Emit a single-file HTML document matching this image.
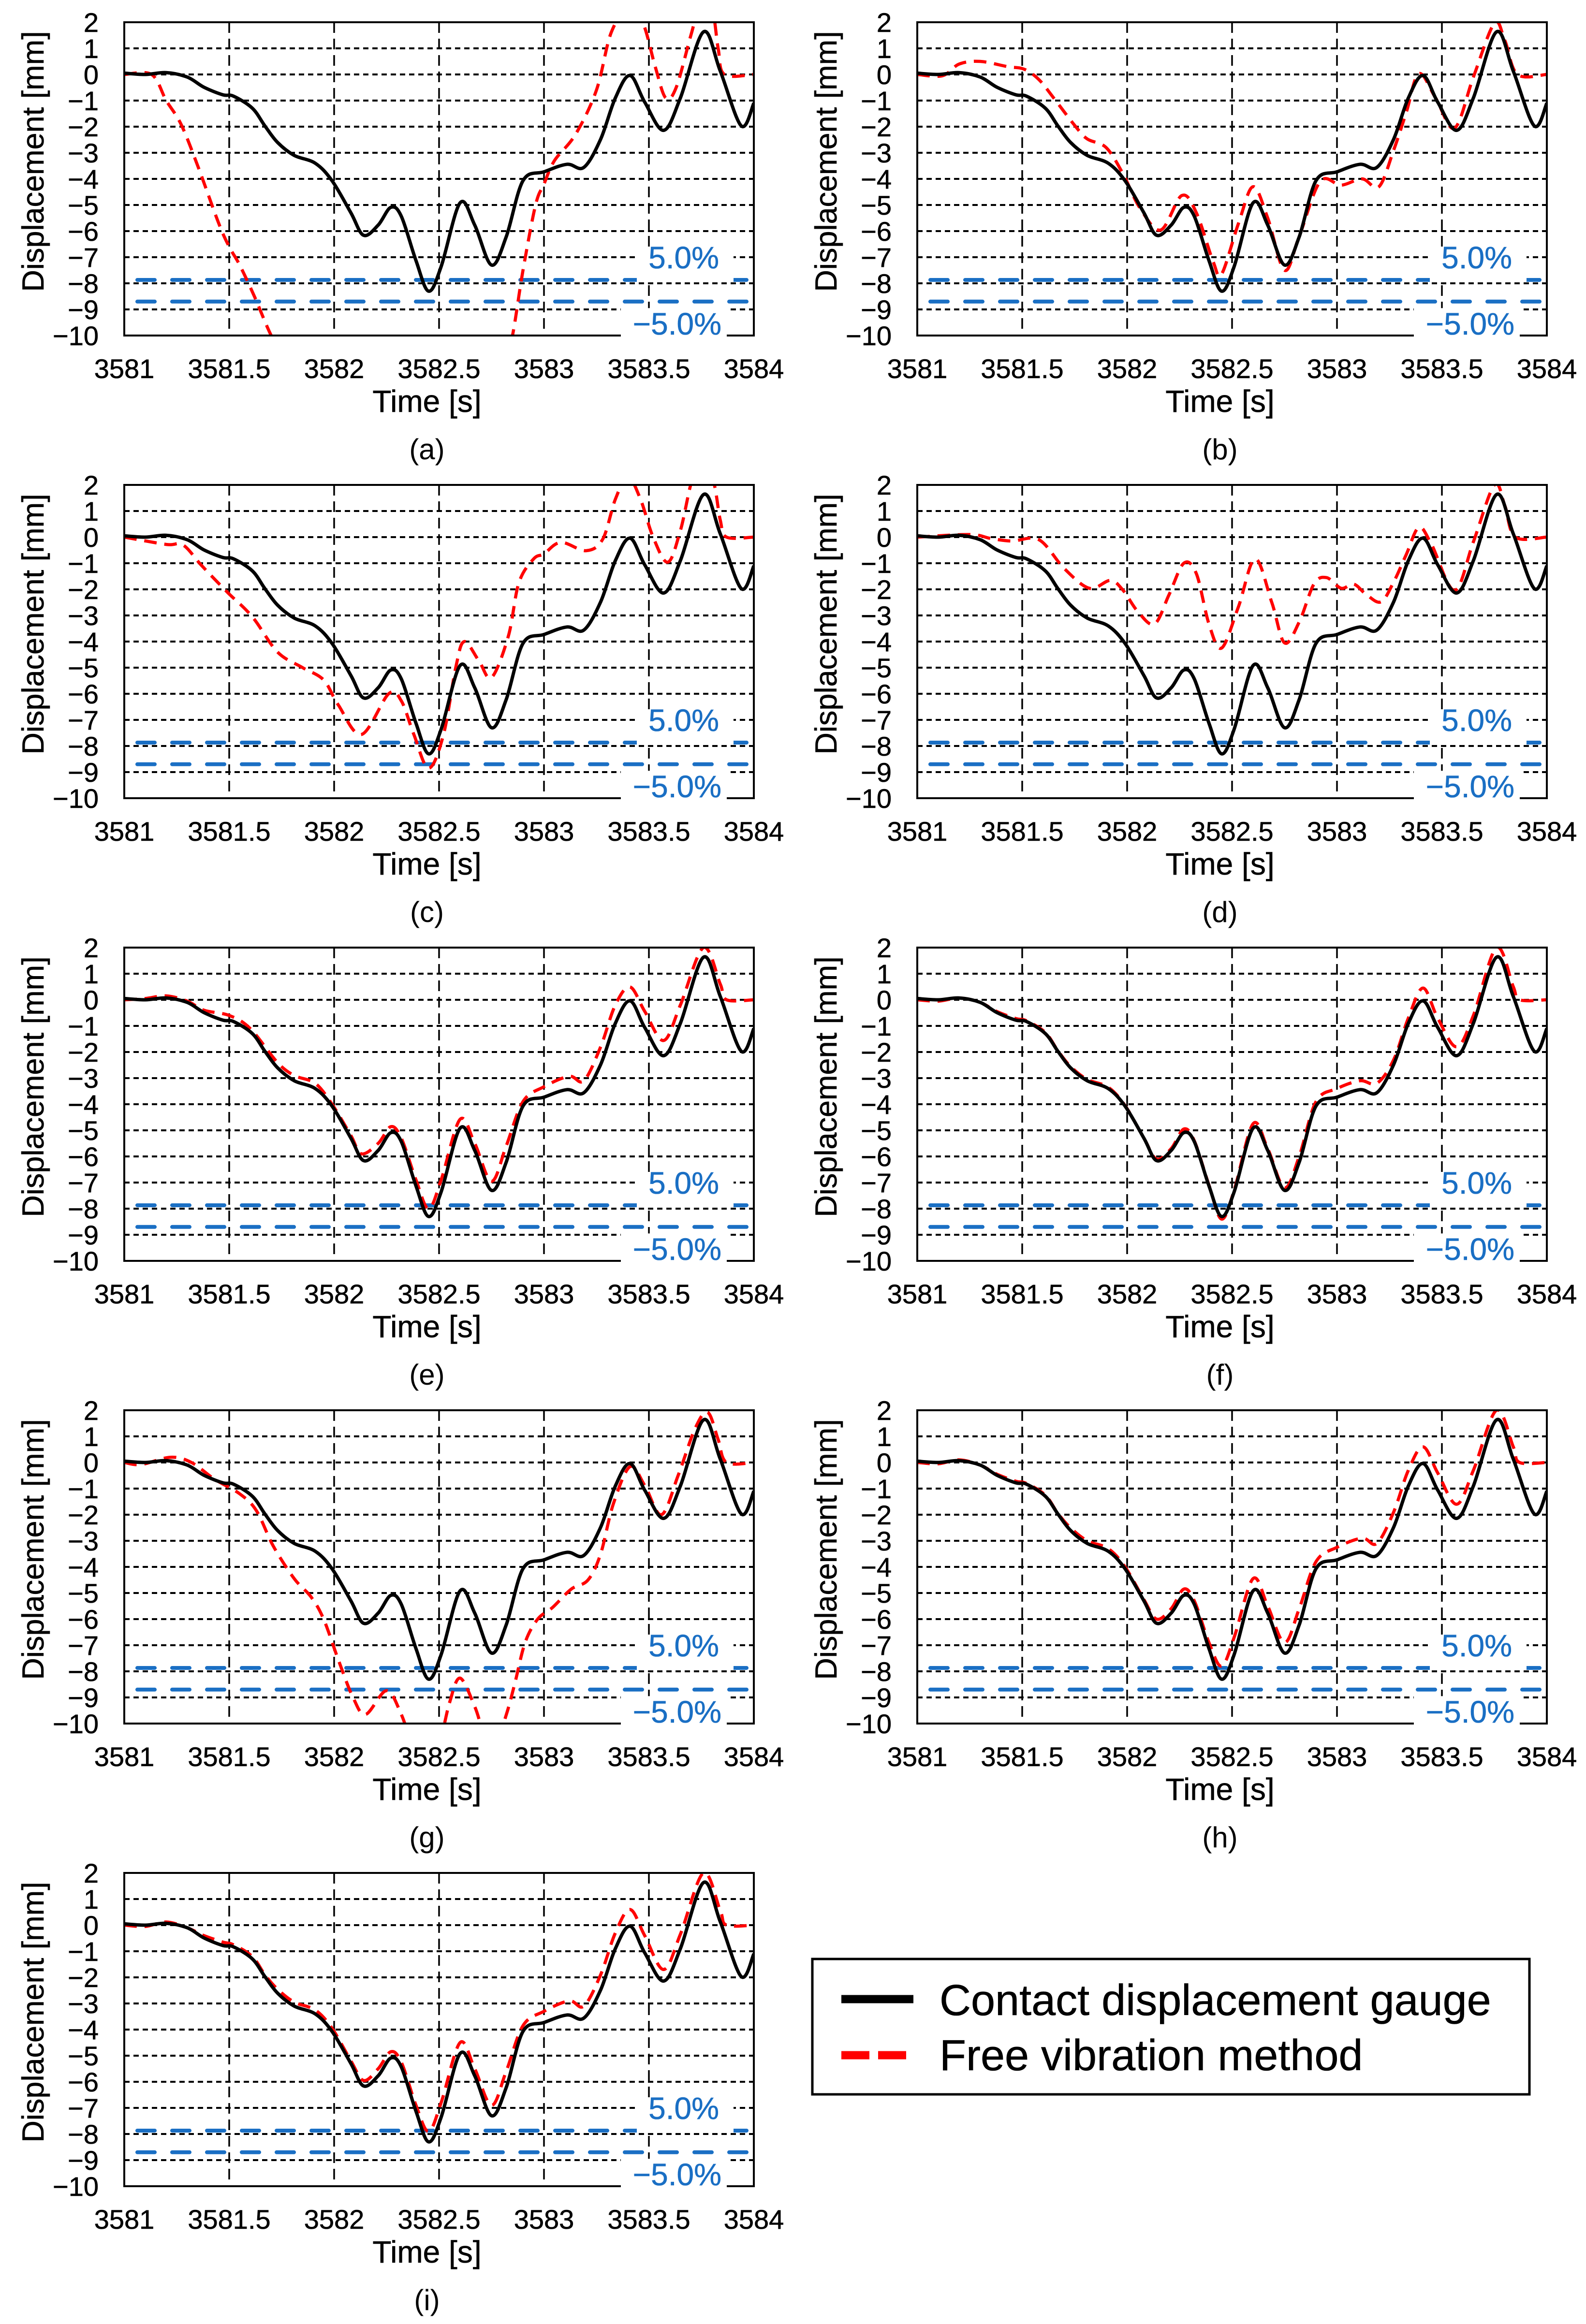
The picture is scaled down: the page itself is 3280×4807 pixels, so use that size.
<!DOCTYPE html>
<html><head><meta charset="utf-8">
<style>
html,body{margin:0;padding:0;background:#fff;}
svg{display:block;}
text{font-family:"Liberation Sans",Arial,sans-serif;stroke-width:0.6;}
</style></head>
<body>
<svg id="fig" width="3280" height="4807" viewBox="0 0 3280 4807" xmlns="http://www.w3.org/2000/svg">
<rect width="3280" height="4807" fill="#fff"/>
</svg>
<script>
// ---- shared axis data ----
const xTicks = [3581, 3581.5, 3582, 3582.5, 3583, 3583.5, 3584];
const xTickLabels = ["3581", "3581.5", "3582", "3582.5", "3583", "3583.5", "3584"];
const yTicks = [2, 1, 0, -1, -2, -3, -4, -5, -6, -7, -8, -9, -10];
const yTickLabels = ["2", "1", "0", "\u22121", "\u22122", "\u22123", "\u22124", "\u22125", "\u22126", "\u22127", "\u22128", "\u22129", "\u221210"];
const limitValues = [-7.87, -8.7];
const limitLabels = ["5.0%", "\u22125.0%"];
const panelLabels = ["(a)", "(b)", "(c)", "(d)", "(e)", "(f)", "(g)", "(h)", "(i)"];

// ---- contact displacement gauge (same in every panel) ----
const gaugeT = [3581,3581.1,3581.2,3581.3,3581.38,3581.47,3581.52,3581.61,3581.67,3581.73,3581.81,3581.91,3581.99,3582.08,3582.14,3582.21,3582.27,3582.32,3582.39,3582.45,3582.51,3582.6,3582.67,3582.75,3582.82,3582.9,3583.0,3583.11,3583.19,3583.27,3583.34,3583.41,3583.48,3583.57,3583.65,3583.76,3583.84,3583.94,3584];
const gaugeV = [0.05,0.0,0.07,-0.1,-0.49,-0.78,-0.83,-1.29,-1.97,-2.6,-3.1,-3.4,-4.07,-5.3,-6.16,-5.77,-5.09,-5.43,-7.13,-8.3,-7.36,-4.92,-5.77,-7.3,-6.22,-4.07,-3.73,-3.44,-3.56,-2.48,-0.9,-0.04,-1.06,-2.14,-0.9,1.63,0.13,-1.97,-1.1];

// ---- free vibration method per panel ----
const freeT_a = [3581,3581.13,3581.2,3581.27,3581.35,3581.45,3581.5,3581.55,3581.62,3581.7,3581.8,3582.3,3582.8,3582.85,3582.9,3582.96,3583.0,3583.05,3583.15,3583.25,3583.32,3583.4,3583.47,3583.53,3583.58,3583.63,3583.7,3583.74,3583.8,3583.83,3583.86,3584];
const freeV_a = [0,0,-1,-1.9,-3.5,-5.7,-6.6,-7.3,-8.5,-10,-11.5,-14,-11.5,-10,-7.5,-5,-4.2,-3.3,-2.3,-0.6,1.6,2.5,2.0,0.3,-0.9,-0.5,1.5,2.5,2.5,1.0,0,0];

const freeT_b = [3581,3581.12,3581.2,3581.3,3581.43,3581.51,3581.58,3581.65,3581.75,3581.81,3581.9,3581.98,3582.06,3582.16,3582.26,3582.33,3582.41,3582.45,3582.53,3582.6,3582.67,3582.75,3582.82,3582.92,3583.02,3583.12,3583.2,3583.27,3583.33,3583.39,3583.47,3583.56,3583.65,3583.75,3583.8,3583.86,3584];
const freeV_b = [0,-0.05,0.4,0.5,0.3,0.2,-0.2,-0.9,-1.95,-2.47,-2.8,-3.8,-5.1,-5.96,-4.64,-5.3,-7.17,-7.65,-5.72,-4.3,-5.5,-7.5,-6.2,-4.1,-4.24,-4.0,-4.3,-2.9,-1.46,0.03,-0.9,-2.06,-0.1,1.96,1.3,0,0];

const freeT_c = [3581,3581.2,3581.28,3581.37,3581.49,3581.61,3581.73,3581.85,3581.95,3582.02,3582.13,3582.26,3582.32,3582.38,3582.45,3582.52,3582.58,3582.62,3582.69,3582.75,3582.83,3582.88,3582.95,3583.0,3583.08,3583.2,3583.28,3583.34,3583.4,3583.46,3583.52,3583.59,3583.65,3583.72,3583.8,3583.84,3583.87,3584];
const freeV_c = [0,-0.28,-0.3,-1.1,-2.1,-3.05,-4.4,-5.0,-5.47,-6.43,-7.56,-6.0,-6.27,-7.56,-8.85,-7.6,-4.98,-4.0,-4.74,-5.38,-3.8,-1.76,-0.84,-0.64,-0.2,-0.52,-0.08,1.45,2.3,1.45,0,-0.96,0.25,2.5,2.3,0.65,0,0];

const freeT_d = [3581,3581.25,3581.35,3581.45,3581.58,3581.7,3581.82,3581.92,3581.98,3582.05,3582.13,3582.2,3582.27,3582.33,3582.39,3582.45,3582.53,3582.61,3582.69,3582.75,3582.82,3582.89,3582.95,3583.02,3583.08,3583.14,3583.21,3583.27,3583.33,3583.39,3583.45,3583.56,3583.65,3583.75,3583.8,3583.85,3584];
const freeV_d = [0,0.1,-0.05,-0.15,-0.1,-1.2,-1.96,-1.66,-2.03,-2.84,-3.33,-2.2,-1.0,-1.4,-3.33,-4.25,-2.68,-0.83,-2.52,-4.05,-3.25,-1.8,-1.55,-1.96,-1.8,-2.2,-2.48,-1.72,-0.67,0.37,-0.27,-2.04,-0.18,2.0,1.2,0,0];

const freeT_e = [3581,3581.1,3581.2,3581.3,3581.38,3581.5,3581.6,3581.73,3581.81,3581.91,3581.99,3582.08,3582.13,3582.21,3582.27,3582.32,3582.39,3582.45,3582.51,3582.6,3582.67,3582.75,3582.82,3582.9,3583.0,3583.12,3583.19,3583.27,3583.34,3583.41,3583.48,3583.57,3583.65,3583.76,3583.84,3583.87,3584];
const freeV_e = [0,0.05,0.15,-0.05,-0.4,-0.6,-1.1,-2.4,-2.9,-3.2,-4.0,-5.2,-5.9,-5.5,-4.86,-5.3,-6.9,-8.0,-6.9,-4.58,-5.5,-6.95,-5.6,-3.9,-3.33,-2.93,-3.1,-1.8,-0.2,0.49,-0.44,-1.56,-0.2,2.0,0.6,0,0];

const freeT_f = [3581,3581.1,3581.2,3581.3,3581.38,3581.47,3581.52,3581.61,3581.67,3581.73,3581.81,3581.91,3581.99,3582.08,3582.14,3582.21,3582.27,3582.32,3582.39,3582.45,3582.51,3582.6,3582.67,3582.75,3582.82,3582.9,3583.0,3583.11,3583.19,3583.27,3583.34,3583.41,3583.48,3583.57,3583.65,3583.76,3583.84,3583.87,3584];
const freeV_f = [0,-0.05,0.07,-0.1,-0.45,-0.72,-0.8,-1.25,-1.95,-2.55,-3.05,-3.35,-4.05,-5.3,-6.1,-5.7,-4.95,-5.4,-7.1,-8.4,-7.3,-4.75,-5.7,-7.2,-6.0,-3.9,-3.4,-3.1,-3.2,-2.3,-0.7,0.45,-0.7,-1.8,-0.6,2.0,0.5,0,0];

const freeT_g = [3581,3581.08,3581.22,3581.32,3581.43,3581.55,3581.63,3581.71,3581.81,3581.89,3581.95,3582.02,3582.09,3582.15,3582.25,3582.32,3582.38,3582.44,3582.5,3582.55,3582.6,3582.67,3582.71,3582.76,3582.82,3582.86,3582.91,3582.97,3583.04,3583.13,3583.21,3583.27,3583.33,3583.41,3583.48,3583.56,3583.64,3583.72,3583.78,3583.83,3583.87,3584];
const freeV_g = [0,-0.08,0.2,0,-0.64,-1.2,-1.85,-3.2,-4.45,-5.15,-6.0,-7.56,-9.0,-9.65,-8.74,-9.65,-11.0,-11.5,-10.8,-9.2,-8.26,-9.35,-10.3,-11.0,-9.67,-8.5,-6.9,-6.0,-5.56,-4.85,-4.5,-3.5,-1.6,-0.16,-0.88,-2.0,-0.48,1.3,1.92,0.88,0,0];

const freeT_h = [3581,3581.1,3581.2,3581.3,3581.38,3581.47,3581.52,3581.61,3581.67,3581.73,3581.81,3581.91,3581.99,3582.08,3582.14,3582.21,3582.27,3582.32,3582.39,3582.45,3582.51,3582.6,3582.67,3582.75,3582.82,3582.9,3583.0,3583.12,3583.19,3583.27,3583.34,3583.41,3583.48,3583.57,3583.65,3583.76,3583.84,3583.87,3584];
const freeV_h = [0,-0.05,0.1,-0.1,-0.45,-0.72,-0.8,-1.25,-1.95,-2.5,-3.0,-3.3,-4.0,-5.25,-6.0,-5.6,-4.85,-5.3,-6.9,-7.8,-6.7,-4.45,-5.5,-6.9,-5.6,-3.8,-3.25,-2.9,-3.1,-1.9,-0.3,0.6,-0.4,-1.6,-0.3,2.0,0.6,0,0];

const freeT_i = [3581,3581.1,3581.2,3581.3,3581.38,3581.47,3581.52,3581.61,3581.67,3581.73,3581.81,3581.91,3581.99,3582.08,3582.14,3582.21,3582.27,3582.32,3582.39,3582.45,3582.51,3582.6,3582.67,3582.75,3582.82,3582.9,3583.0,3583.12,3583.19,3583.27,3583.34,3583.41,3583.48,3583.57,3583.65,3583.76,3583.84,3583.87,3584];
const freeV_i = [0,-0.05,0.12,-0.1,-0.4,-0.65,-0.75,-1.2,-1.9,-2.45,-2.95,-3.25,-3.95,-5.2,-5.95,-5.5,-4.85,-5.25,-6.9,-7.9,-6.8,-4.5,-5.5,-6.9,-5.6,-3.85,-3.3,-2.9,-3.1,-1.9,-0.3,0.6,-0.4,-1.7,-0.35,2.0,0.55,0,0];

const freeTs = [freeT_a, freeT_b, freeT_c, freeT_d, freeT_e, freeT_f, freeT_g, freeT_h, freeT_i];
const freeVs = [freeV_a, freeV_b, freeV_c, freeV_d, freeV_e, freeV_f, freeV_g, freeV_h, freeV_i];

const NS = "http://www.w3.org/2000/svg";
const svg = document.getElementById('fig');
const PW = 1302, PH = 648;

function mk(tag, attrs, parent) {
  const e = document.createElementNS(NS, tag);
  for (const k in attrs) e.setAttribute(k, attrs[k]);
  parent.appendChild(e);
  return e;
}
function smoothPath(pts) {
  let d = "M" + pts[0][0].toFixed(1) + "," + pts[0][1].toFixed(1);
  for (let i = 0; i < pts.length - 1; i++) {
    const p0 = pts[i - 1] || pts[i], p1 = pts[i], p2 = pts[i + 1], p3 = pts[i + 2] || p2;
    const c1 = [p1[0] + (p2[0] - p0[0]) / 6, p1[1] + (p2[1] - p0[1]) / 6];
    const c2 = [p2[0] - (p3[0] - p1[0]) / 6, p2[1] - (p3[1] - p1[1]) / 6];
    d += " C" + c1[0].toFixed(1) + "," + c1[1].toFixed(1) + " " + c2[0].toFixed(1) + "," + c2[1].toFixed(1) + " " + p2[0].toFixed(1) + "," + p2[1].toFixed(1);
  }
  return d;
}

for (let p = 0; p < 9; p++) {
  const col = p % 2, row = Math.floor(p / 2);
  const px = col === 0 ? 257 : 1897;
  const py = 46 + 957 * row;
  const xS = t => px + (t - 3581) / 3 * PW;
  const yS = v => py + (2 - v) / 12 * PH;

  const g = mk('g', {}, svg);
  
  

  const cp = mk('clipPath', { id: 'clip' + p }, g);
  mk('rect', { x: px, y: py, width: PW, height: PH }, cp);

  yTicks.forEach(v => {
    const l = mk('line', { x1: px, x2: px + PW, y1: yS(v), y2: yS(v), stroke: '#000', 'stroke-width': 4, 'stroke-dasharray': '11,8' }, g);
    
    
  });
  xTicks.forEach(t => {
    const l = mk('line', { x1: xS(t), x2: xS(t), y1: py, y2: py + PH, stroke: '#000', 'stroke-width': 3.5, 'stroke-dasharray': '22,12' }, g);
    
    
  });

  limitValues.forEach((v, i) => {
    const l = mk('line', { x1: px + 27, x2: px + PW, y1: yS(v), y2: yS(v), stroke: '#1a6fc4', 'stroke-width': 8, 'stroke-dasharray': '36,36', 'stroke-linecap': 'round' }, g);
    
    
  });

  const gPts = gaugeT.map((t, i) => [xS(t), yS(gaugeV[i])]);
  const fPts = freeTs[p].map((t, i) => [xS(t), yS(freeVs[p][i])]);
  const sg = mk('g', { 'clip-path': 'url(#clip' + p + ')' }, g);
  const redPath = mk('path', { d: smoothPath(fPts), fill: 'none', stroke: '#ff0000', 'stroke-width': 6.5, 'stroke-dasharray': '26,16' }, sg);
  
  
  const blackPath = mk('path', { d: smoothPath(gPts), fill: 'none', stroke: '#000', 'stroke-width': 7, 'stroke-linejoin': 'round' }, sg);
  
  

  const fr = mk('rect', { x: px, y: py, width: PW, height: PH, fill: 'none', stroke: '#000', 'stroke-width': 4 }, g);
  
  

  mk('rect', { x: px + 1060, y: yS(-6.7), width: 200, height: 68, fill: '#fff' }, g);
  mk('rect', { x: px + 1027, y: yS(-8.95), width: 219, height: 80, fill: '#fff' }, g);

  const t1 = mk('text', { x: px + 1230, y: py + 509, 'text-anchor': 'end', 'font-size': 64, fill: '#1a6fc4', stroke: '#1a6fc4' }, g);
  t1.textContent = limitLabels[0];
  
  
  const t2 = mk('text', { x: px + 1235, y: py + 646, 'text-anchor': 'end', 'font-size': 64, fill: '#1a6fc4', stroke: '#1a6fc4' }, g);
  t2.textContent = limitLabels[1];
  
  

  yTicks.forEach((v, i) => {
    const t = mk('text', { x: px - 53, y: yS(v) + 20, 'text-anchor': 'end', 'font-size': 56, fill: '#000', stroke: '#000' }, g);
    t.textContent = yTickLabels[i];
    
    
  });
  xTicks.forEach((tv, i) => {
    const t = mk('text', { x: xS(tv), y: py + PH + 88, 'text-anchor': 'middle', 'font-size': 56, fill: '#000', stroke: '#000' }, g);
    t.textContent = xTickLabels[i];
    
    
  });

  const xt = mk('text', { x: px + 626, y: py + 806, 'text-anchor': 'middle', 'font-size': 64, fill: '#000', stroke: '#000' }, g);
  xt.textContent = 'Time [s]';
  
  

  const yt = mk('text', { x: 0, y: 0, 'text-anchor': 'middle', 'font-size': 63, fill: '#000', stroke: '#000', transform: 'translate(' + (px - 167) + ',' + (py + 288) + ') rotate(-90)' }, g);
  yt.textContent = 'Displacement [mm]';
  
  

  const pl = mk('text', { x: px + 626, y: py + 904, 'text-anchor': 'middle', 'font-size': 60, fill: '#000' }, g);
  pl.textContent = panelLabels[p];
  
  
}

const lg = mk('g', {}, svg);


mk('rect', { x: 1680, y: 4052, width: 1483, height: 280, fill: '#fff', stroke: '#000', 'stroke-width': 5 }, lg);
const lk1 = mk('line', { x1: 1740, x2: 1889, y1: 4135, y2: 4135, stroke: '#000', 'stroke-width': 17 }, lg);


const lk2 = mk('line', { x1: 1740, x2: 1875, y1: 4251, y2: 4251, stroke: '#ff0000', 'stroke-width': 17, 'stroke-dasharray': '58,18' }, lg);


const lt1 = mk('text', { x: 1943, y: 4168, 'font-size': 90, fill: '#000', stroke: '#000' }, lg);
lt1.textContent = 'Contact displacement gauge';


const lt2 = mk('text', { x: 1943, y: 4282, 'font-size': 90, fill: '#000', stroke: '#000' }, lg);
lt2.textContent = 'Free vibration method';


</script>
</body></html>
